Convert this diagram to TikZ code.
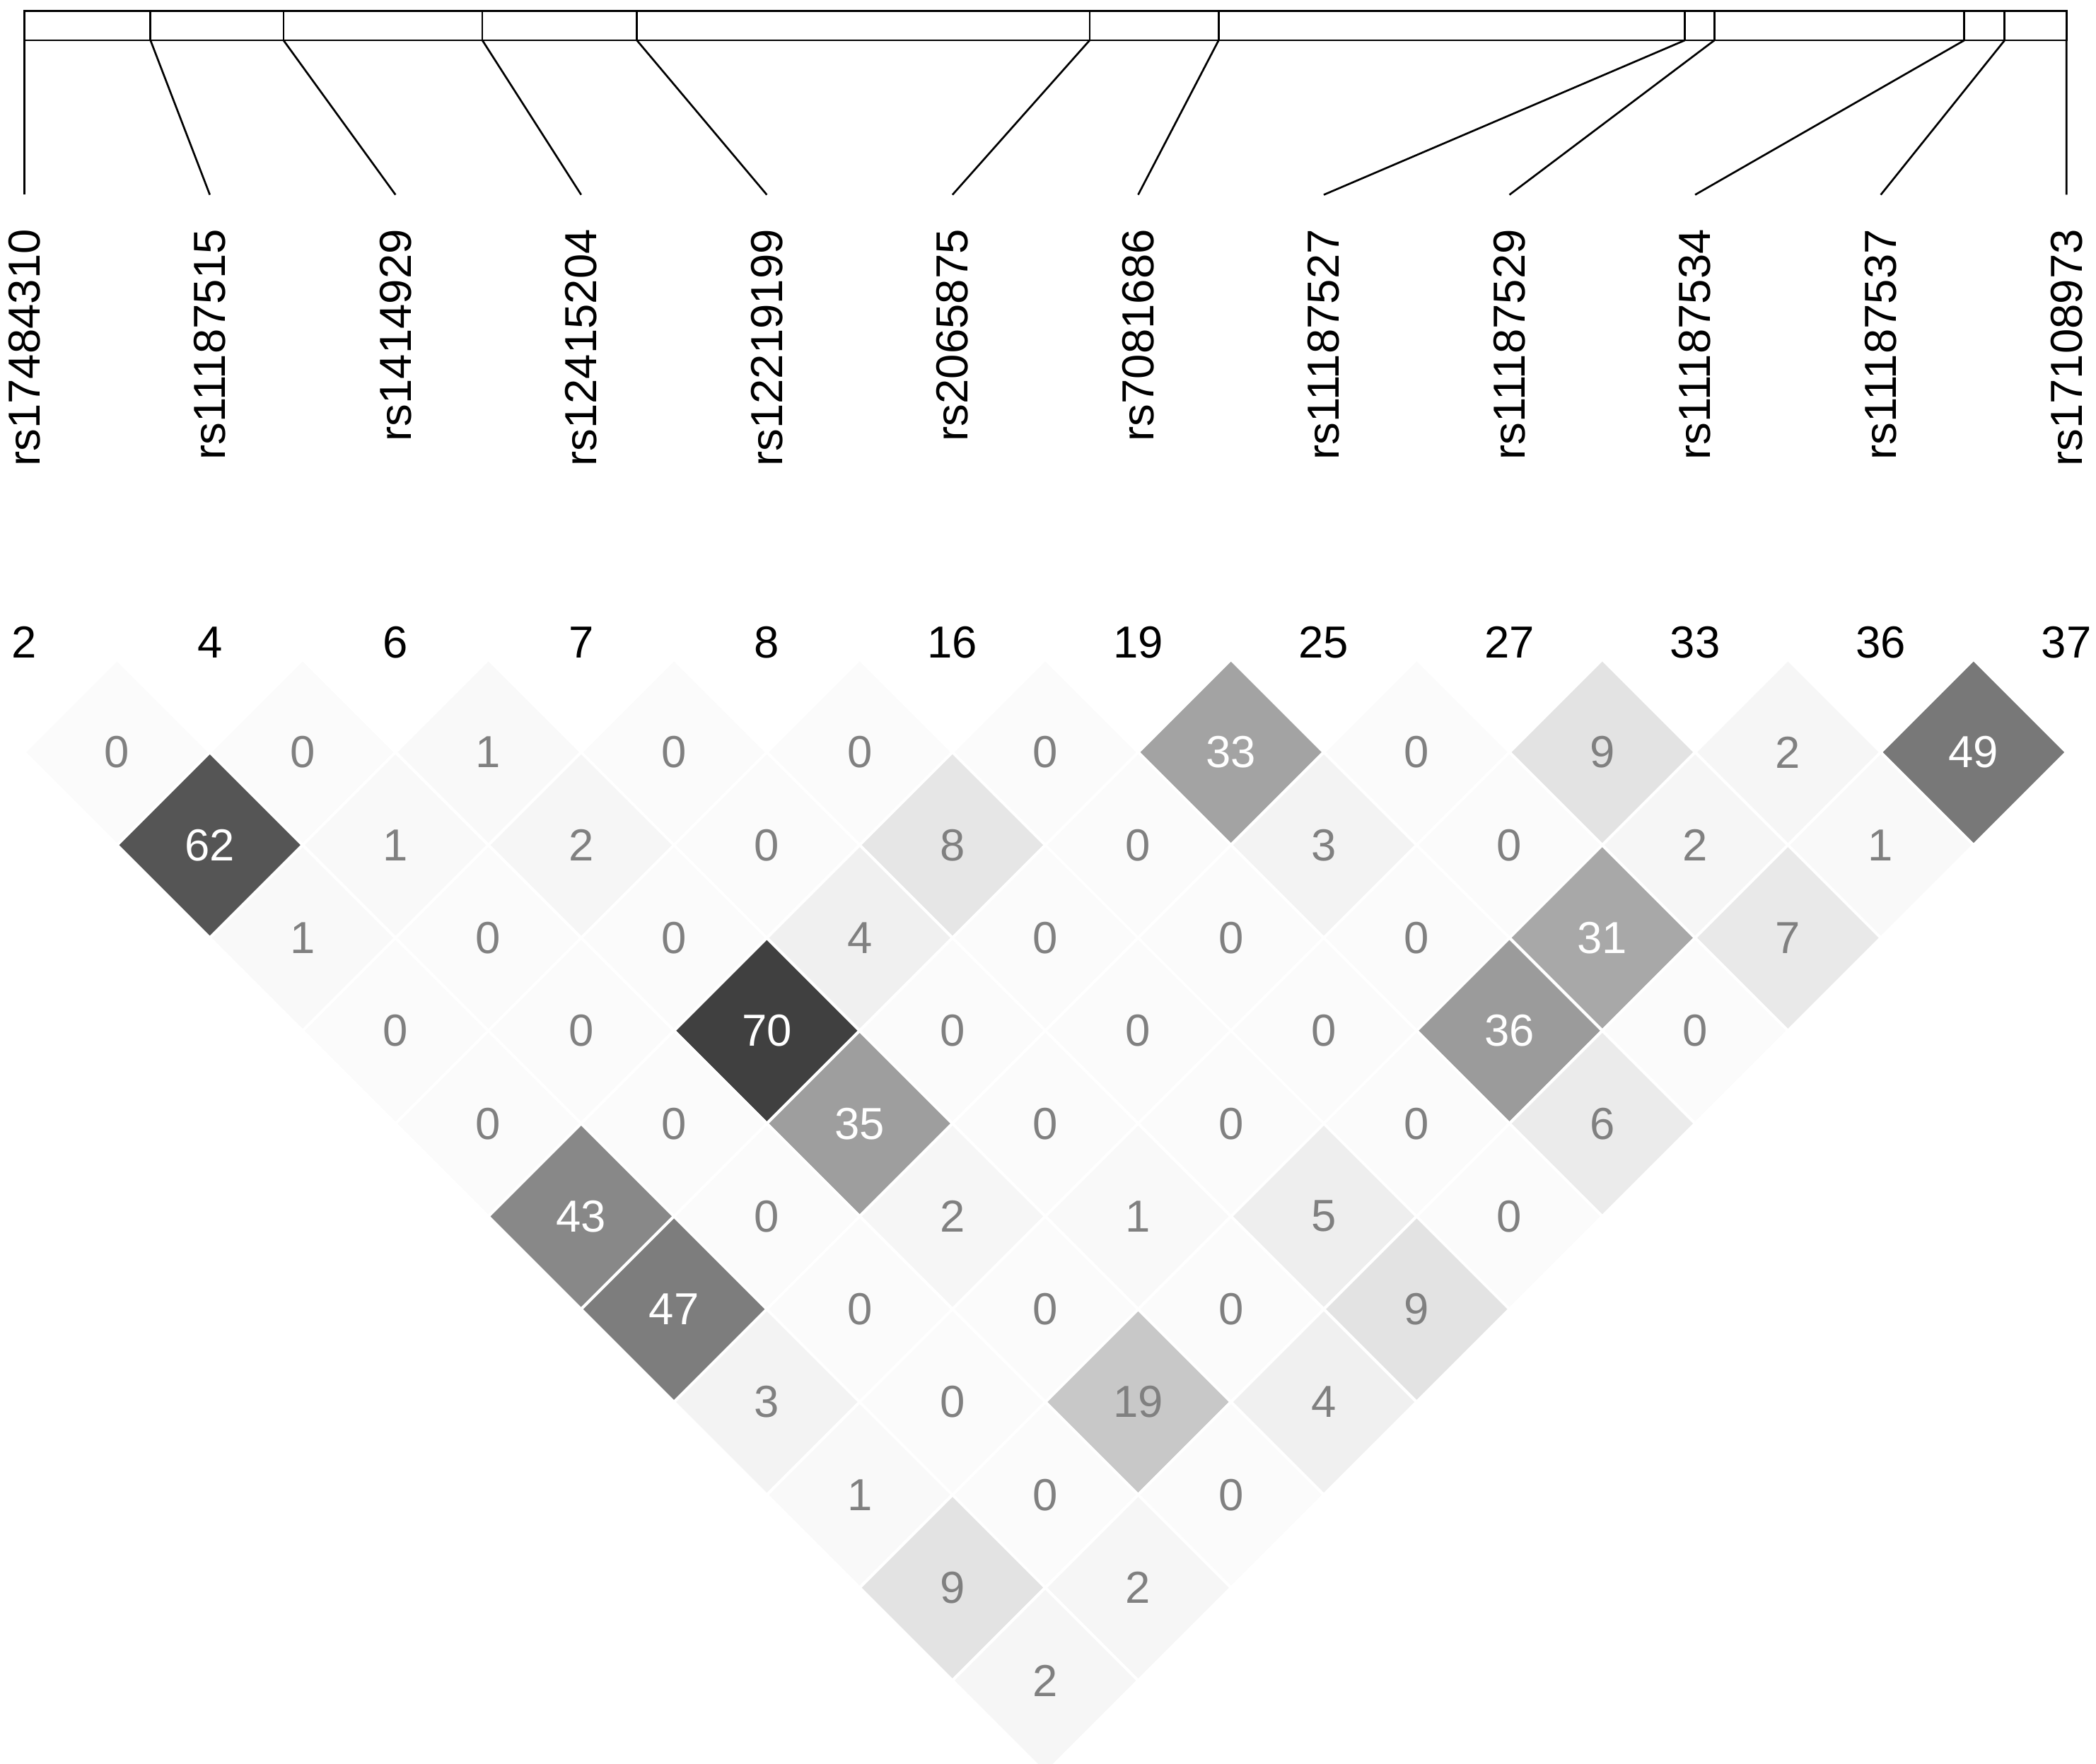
\documentclass[tikz,border=0pt]{standalone}
\usepackage{fontspec}
\setmainfont{Liberation Sans}
\begin{document}
\begin{tikzpicture}[x=0.01cm,y=-0.01cm,
  snplab/.style={rotate=90,anchor=east,inner sep=0pt,font=\fontsize{9.5}{10}\selectfont},
  poslab/.style={inner sep=0pt,font=\fontsize{9.5}{10}\selectfont},
  cellnum/.style={inner sep=0pt,font=\fontsize{9.5}{10}\selectfont}]
\useasboundingbox (0,0) rectangle (1560,1313);
% map of marker positions
\draw (18,8) rectangle (1538,30);
\foreach \p [count=\k] in {18,112,211,359,474,811,907,1254,1276,1462,1492,1538}
  {\draw (\p,8) -- (\p,30);
   \coordinate (tick\k) at (\p,30);}
% marker names and numbers
\foreach \n [count=\k] in {rs17484310,rs11187515,rs1414929,rs12415204,rs12219199,rs2065875,rs7081686,rs11187527,rs11187529,rs11187534,rs11187537,rs17108973}
  {\pgfmathsetmacro{\xx}{18+138.18*(\k-1)}
   \coordinate (top\k) at (\xx,145);
   \node[snplab] (snp\k) at (\xx,170) {\n};
   \draw (tick\k) -- (top\k);}
\foreach \m [count=\k] in {2,4,6,7,8,16,19,25,27,33,36,37}
  {\pgfmathsetmacro{\xx}{18+138.18*(\k-1)}
   \node[poslab] (pos\k) at (\xx,478) {\m};}
% LD cells
\foreach \i/\j/\v in {1/2/0,2/3/0,3/4/1,4/5/0,5/6/0,6/7/0,7/8/33,8/9/0,9/10/9,10/11/2,11/12/49,
  1/3/62,2/4/1,3/5/2,4/6/0,5/7/8,6/8/0,7/9/3,8/10/0,9/11/2,10/12/1,
  1/4/1,2/5/0,3/6/0,4/7/4,5/8/0,6/9/0,7/10/0,8/11/31,9/12/7,
  1/5/0,2/6/0,3/7/70,4/8/0,5/9/0,6/10/0,7/11/36,8/12/0,
  1/6/0,2/7/0,3/8/35,4/9/0,5/10/0,6/11/0,7/12/6,
  1/7/43,2/8/0,3/9/2,4/10/1,5/11/5,6/12/0,
  1/8/47,2/9/0,3/10/0,4/11/0,5/12/9,
  1/9/3,2/10/0,3/11/19,4/12/4,
  1/10/1,2/11/0,3/12/0,
  1/11/9,2/12/2,
  1/12/2}
  {\pgfmathsetmacro{\xx}{18+138.18*(\i+\j-2)/2}
   \pgfmathsetmacro{\yy}{560+69.1*(\j-\i-1)}
   \pgfmathsetmacro{\sh}{min(100,\v*1.05+1.5)}
   \pgfmathsetmacro{\tc}{\v>29 ? "white" : "black!50"}
   \fill[black!\sh,draw=white,line width=0.6pt] (\xx,\yy-69.1) -- (\xx+69.1,\yy) -- (\xx,\yy+69.1) -- (\xx-69.1,\yy) -- cycle;
   \node[cellnum,text=\tc] (c\i-\j) at (\xx,\yy) {\v};}
\end{tikzpicture}
\end{document}
